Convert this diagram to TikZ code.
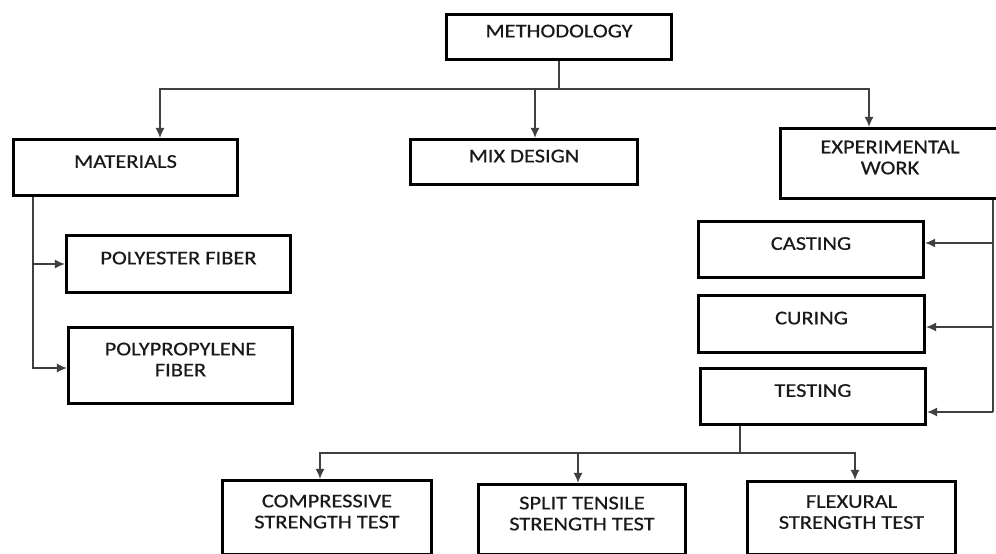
\documentclass[tikz,border=0pt]{standalone}
\usepackage{fontspec}
\setmainfont{Carlito}[FakeStretch=1.15,FakeBold=0.6]
\usetikzlibrary{arrows.meta}
\begin{document}
\begin{tikzpicture}[x=1pt,y=-1pt,
    boite/.style={draw,line width=3.2pt,inner sep=0pt,align=center,text depth=12pt,text=black!90,font=\fontsize{19.5}{21}\selectfont},
    ligne/.style={line width=1.3pt,draw=black!75},
    fleche/.style={ligne,->,>={Latex[length=10pt,width=9pt]}}]
    \useasboundingbox (0,0) rectangle (996,554);
    \node[boite,minimum width=225pt,minimum height=45pt] (M) at (559,37) {METHODOLOGY};
    \node[boite,minimum width=224pt,minimum height=56pt] (MAT) at (125.5,167.5) {MATERIALS};
    \node[boite,minimum width=227pt,minimum height=45pt] (MIX) at (524,162) {MIX DESIGN};
    \node[boite,minimum width=219pt,minimum height=70pt] (EXP) at (890,163.5) {EXPERIMENTAL\\WORK};
    \node[boite,minimum width=224pt,minimum height=57pt] (PES) at (178.5,264) {POLYESTER FIBER};
    \node[boite,minimum width=224pt,minimum height=76pt] (PPF) at (180.5,365.5) {POLYPROPYLENE\\FIBER};
    \node[boite,minimum width=225pt,minimum height=56pt] (CAST) at (811,249.5) {CASTING};
    \node[boite,minimum width=226pt,minimum height=57pt] (CUR) at (811.5,324) {CURING};
    \node[boite,minimum width=225pt,minimum height=56pt] (TEST) at (813,396.5) {TESTING};
    \node[boite,minimum width=209pt,minimum height=74pt] (COMP) at (327,517.5) {COMPRESSIVE\\STRENGTH TEST};
    \node[boite,minimum width=207pt,minimum height=70pt] (SPL) at (582,519.5) {SPLIT TENSILE\\STRENGTH TEST};
    \node[boite,minimum width=208pt,minimum height=73pt] (FLX) at (851.5,518) {FLEXURAL\\STRENGTH TEST};
    \coordinate (haut) at (0,89);
    \coordinate (gauche) at (33,0);
    \coordinate (droite) at (993,0);
    \coordinate (noeud) at (740,453);
    \draw[ligne] (M.south) -- (M.south |- haut);
    \draw[fleche] (M.south |- haut) -| ([xshift=34.5pt]MAT.north);
    \draw[fleche] (M.south |- haut) -| ([xshift=-21pt]EXP.north);
    \draw[fleche] ([xshift=11pt]MIX.north |- haut) -- ([xshift=11pt]MIX.north);
    \draw[fleche] (MAT.south -| gauche) |- ([yshift=-2.5pt]PPF.west);
    \draw[fleche] (PES.west -| gauche) -- (PES.west);
    \draw[ligne] (EXP.south -| droite) -- ([yshift=-15.5pt]TEST.east -| droite);
    \draw[fleche] ([yshift=6.5pt]CAST.east -| droite) -- ([yshift=6.5pt]CAST.east);
    \draw[fleche] ([yshift=-3pt]CUR.east -| droite) -- ([yshift=-3pt]CUR.east);
    \draw[fleche] ([yshift=-15.5pt]TEST.east -| droite) -- ([yshift=-15.5pt]TEST.east);
    \draw[ligne] (noeud |- TEST.south) -- (noeud);
    \draw[fleche] (noeud) -| ([xshift=-7pt]COMP.north);
    \draw[fleche] (noeud) -| ([xshift=3.5pt]FLX.north);
    \draw[fleche] ([xshift=-4pt]SPL.north |- noeud) -- ([xshift=-4pt]SPL.north);
\end{tikzpicture}
\end{document}
